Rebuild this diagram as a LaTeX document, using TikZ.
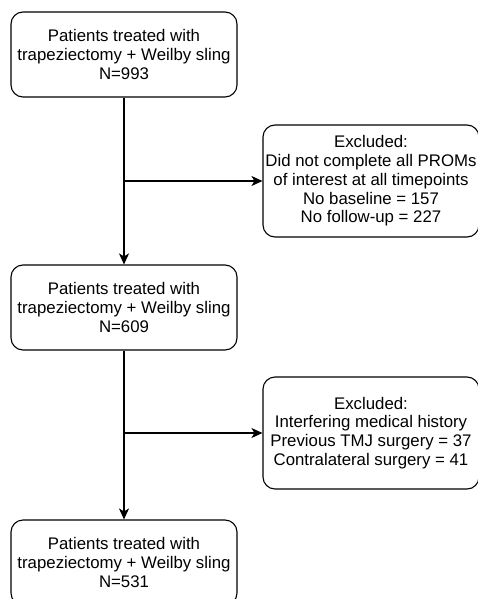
\documentclass[tikz,border=0pt]{standalone}
\usepackage{fontspec}
\setmainfont{Liberation Sans}
\usetikzlibrary{arrows.meta}
\newcommand{\boxfont}{\fontsize{16.8}{18.7}\selectfont}

\tikzset{
    pbox/.style={draw, rounded corners=12pt, line width=1.1pt, align=center,
        inner sep=0pt, minimum width=226pt, minimum height=85pt, font=\boxfont},
    xbox/.style={pbox, minimum width=216pt, minimum height=112pt},
    flow/.style={-{Stealth[length=11pt, width=10pt, inset=3pt]}, line width=1.1pt}
}

\begin{document}
\begin{tikzpicture}[x=1pt, y=-1pt]
    \useasboundingbox (0,0) rectangle (477,599);

    % patient groups
    \node [pbox] (p1) at (124, 54.5) {Patients treated with\\trapeziectomy + Weilby sling\\N=993};
    \node [pbox] (p2) at (124, 307.5) {Patients treated with\\trapeziectomy + Weilby sling\\N=609};
    \node [pbox] (p3) at (124, 562.5) {Patients treated with\\trapeziectomy + Weilby sling\\N=531};

    % excluded
    \node [xbox] (x1) at (371, 181) {Excluded:\\Did not complete all PROMs\\of interest at all timepoints\\No baseline = 157\\No follow-up = 227};
    \node [xbox] (x2) at (371, 433) {Excluded:\\Interfering medical history\\Previous TMJ surgery = 37\\Contralateral surgery = 41};

    % branch points
    \coordinate (b1) at (p1.south |- x1.west);
    \coordinate (b2) at (p2.south |- x2.west);

    % lines
    \draw [flow] (p1) -- (p2);
    \draw [flow] (p2) -- (p3);
    \draw [flow] (b1) -- (x1);
    \draw [flow] (b2) -- (x2);
\end{tikzpicture}
\end{document}
